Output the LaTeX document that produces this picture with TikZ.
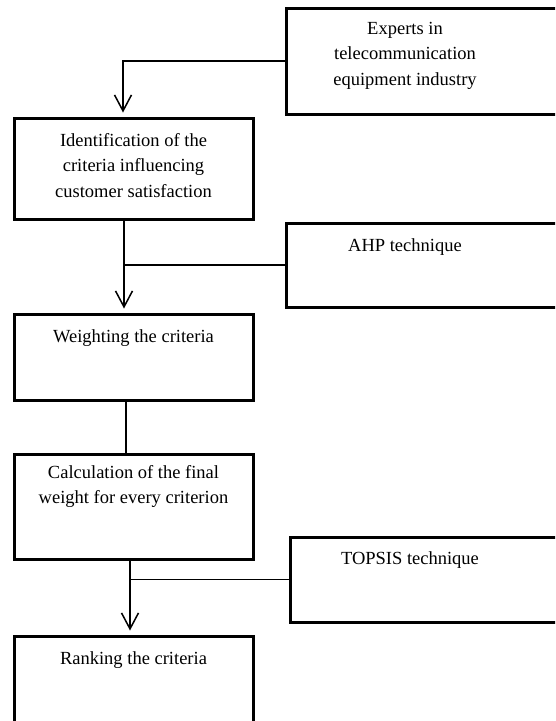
\documentclass[tikz,border=0pt]{standalone}
\usepackage{fontspec}
\setmainfont{Liberation Serif}
\usepackage{tikz}
\usetikzlibrary{positioning}
\usetikzlibrary{arrows.meta}

\tikzset{
  stage/.style={draw, line width=3pt, minimum width=239pt, inner sep=0pt},
  tool/.style={draw, line width=3pt, minimum width=314pt, inner sep=0pt},
  lbl/.style={anchor=north, inner sep=0pt, align=center,
    font=\fontsize{18.5}{25.5}\selectfont},
  link/.style={line width=1.5pt},
  flow/.style={line width=1.5pt, -{Straight Barb[length=16pt,width=17pt]}, shorten >=4pt}
}

\begin{document}
\begin{tikzpicture}[x=1pt, y=-1pt]

% Set the size of the figure
\useasboundingbox (0,0) rectangle (555,721);
\clip (0,0) rectangle (555,721);

% Boxes on the left
\node[stage, minimum height=101pt] (ident) at (133.5,168.5) {};
\node[stage, minimum height=86pt] (weight) at (133.5,357) {};
\node[stage, minimum height=105pt] (calc) at (133.5,506.5) {};
\node[stage, minimum height=86pt] (rank) at (133.5,679) {};

% Boxes on the right
\node[tool, minimum height=106pt] (experts) at (443,61) {};
\node[tool, minimum height=84pt] (ahp) at (443,265) {};
\node[tool, minimum width=310pt, minimum height=85pt] (topsis) at (445,579.5) {};

% Texts
\node[lbl] (expertstext) at (405,22) {Experts in\\telecommunication\\equipment industry};
\node[lbl] (identtext) at (133.5,133) {Identification of the\\criteria influencing\\customer satisfaction};
\node[lbl] (ahptext) at (405,238) {AHP technique};
\node[lbl] (weighttext) at (133.5,329) {Weighting the criteria};
\node[lbl] (calctext) at (133.5,465) {Calculation of the final\\weight for every criterion};
\node[lbl] (topsistext) at (410,551) {TOPSIS technique};
\node[lbl] (ranktext) at (133.5,651) {Ranking the criteria};

% Connectors
\draw[flow] (experts.west) -| ([xshift=-10.5pt]ident.north);
\draw[flow] ([xshift=-9.5pt]ident.south) -- ([xshift=-9.5pt]weight.north);
\draw[link] (ahp.west) -- ([xshift=-9.5pt]ident.south |- ahp.west);
\draw[line width=1.2pt] ([xshift=-7.5pt]weight.south) -- ([xshift=-7.5pt]calc.north);
\draw[flow] ([xshift=-3.5pt]calc.south) -- ([xshift=-3.5pt]rank.north);
\draw[link] (topsis.west) -- ([xshift=-3.5pt]calc.south |- topsis.west);
\end{tikzpicture}
\end{document}
